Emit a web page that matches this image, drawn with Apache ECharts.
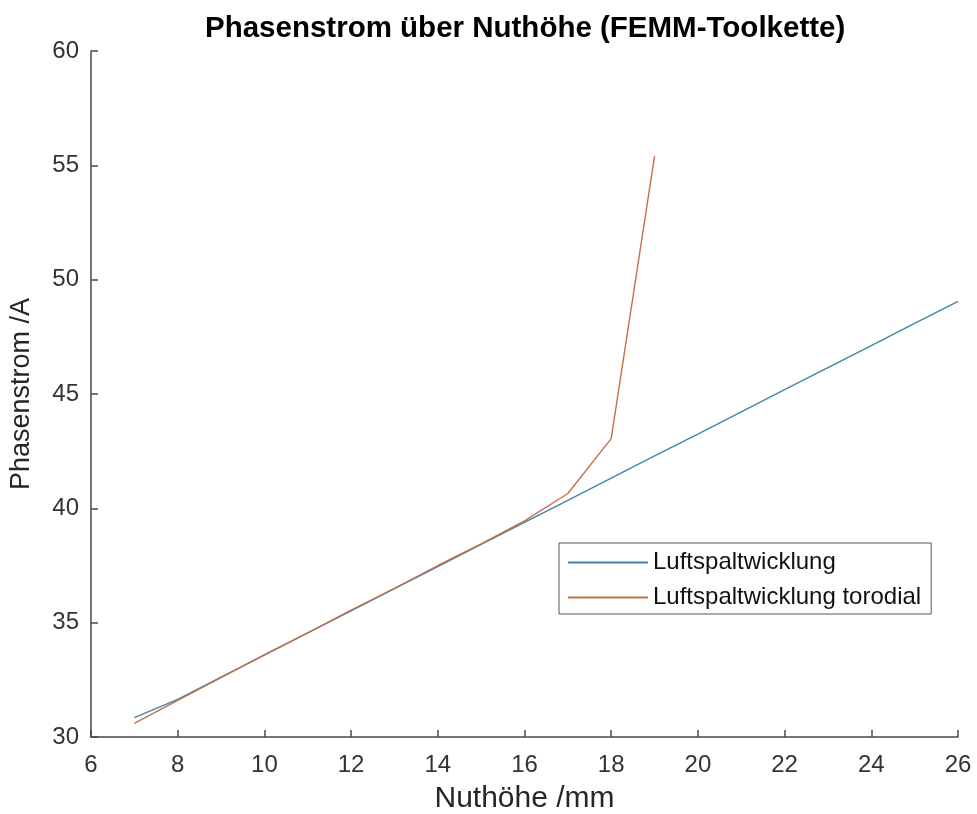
<!DOCTYPE html>
<html>
<head>
<meta charset="utf-8">
<script src="https://cdn.jsdelivr.net/npm/echarts@6/dist/echarts.min.js"></script>
<style>html,body{margin:0;padding:0;background:#fff;overflow:hidden;}#c{width:977px;height:814px;}</style>
</head>
<body>
<div id="c"></div>
<script>
var xBlue = [7, 8, 9, 10, 11, 12, 13, 14, 15, 16, 17, 18, 19, 20, 21, 22, 23, 24, 25, 26];
var yBlue = [30.85, 31.65, 32.62, 33.58, 34.55, 35.52, 36.49, 37.45, 38.42, 39.39, 40.35, 41.32, 42.29, 43.25, 44.22, 45.19, 46.15, 47.12, 48.09, 49.05];
var xOrange = [7, 8, 9, 10, 11, 12, 13, 14, 15, 16, 17, 18, 19];
var yOrange = [30.6, 31.6, 32.6, 33.6, 34.55, 35.55, 36.5, 37.5, 38.45, 39.45, 40.65, 43.05, 55.4];
var seriesNames = ['Luftspaltwicklung', 'Luftspaltwicklung torodial'];
var titleText = 'Phasenstrom über Nuthöhe (FEMM-Toolkette)';
var xName = 'Nuthöhe /mm';
var yName = 'Phasenstrom /A';

function pairs(xs, ys) { return xs.map(function (x, i) { return [x, ys[i]]; }); }

var font = '"Liberation Sans", Arial, sans-serif';
var axisCol = '#4a4a4a';
var chart = echarts.init(document.getElementById('c'), null, { renderer: 'canvas' });
chart.setOption({
  animation: false,
  backgroundColor: '#fff',
  title: {
    text: titleText,
    left: 200,
    top: 9,
    textStyle: { fontFamily: font, fontSize: 29.5, fontWeight: 'bold', color: '#000' }
  },
  grid: { left: 91, right: 19, top: 51, bottom: 77, containLabel: false, outerBoundsMode: 'none' },
  legend: {
    orient: 'vertical',
    left: 559,
    top: 543,
    padding: [7, 10, 4, 9],
    itemGap: 10,
    itemWidth: 80,
    itemHeight: 2,
    icon: 'rect',
    borderColor: '#555',
    borderWidth: 1,
    backgroundColor: '#fff',
    textStyle: { fontFamily: font, fontSize: 24, lineHeight: 25, color: '#111' },
    data: seriesNames
  },
  xAxis: {
    type: 'value', min: 6, max: 26, interval: 2,
    name: xName, nameLocation: 'middle', nameGap: 47,
    nameTextStyle: { fontFamily: font, fontSize: 30, color: '#262626' },
    axisLine: { show: true, onZero: false, lineStyle: { color: axisCol, width: 1.5 } },
    axisTick: { show: true, inside: true, length: 7, lineStyle: { color: axisCol, width: 1.5 } },
    axisLabel: { fontFamily: font, fontSize: 24, color: '#333', margin: 16 },
    splitLine: { show: false }
  },
  yAxis: {
    type: 'value', min: 30, max: 60, interval: 5,
    name: yName, nameLocation: 'middle', nameGap: 56,
    nameTextStyle: { fontFamily: font, fontSize: 27, color: '#262626' },
    axisLine: { show: true, onZero: false, lineStyle: { color: axisCol, width: 1.5 } },
    axisTick: { show: true, inside: true, length: 7, lineStyle: { color: axisCol, width: 1.5 } },
    axisLabel: { fontFamily: font, fontSize: 24, color: '#333', margin: 12 },
    splitLine: { show: false }
  },
  series: [
    { name: seriesNames[0], type: 'line', data: pairs(xBlue, yBlue), symbol: 'none',
      lineStyle: { width: 1.4, color: '#3e87a6' }, itemStyle: { color: '#3e87a6' } },
    { name: seriesNames[1], type: 'line', data: pairs(xOrange, yOrange), symbol: 'none',
      lineStyle: { width: 1.4, color: '#c4704a' }, itemStyle: { color: '#c4704a' } }
  ]
});
</script>
</body>
</html>
